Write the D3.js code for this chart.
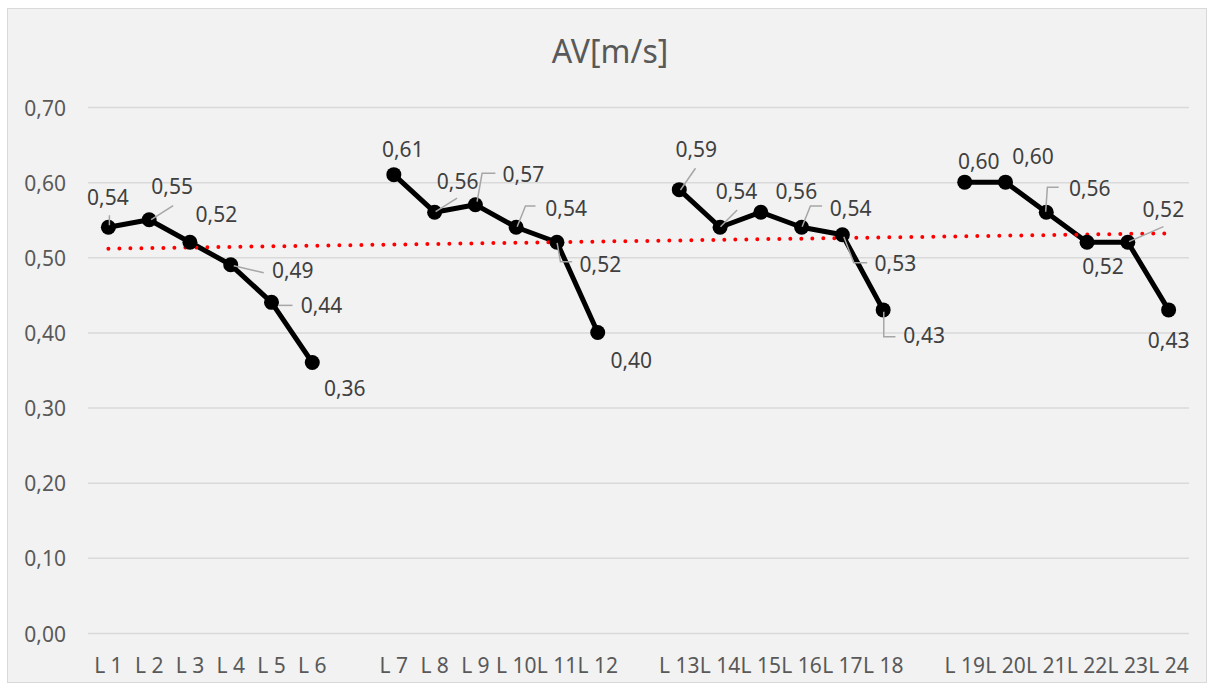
<!DOCTYPE html>
<html>
<head>
<meta charset="utf-8">
<script src="https://cdn.jsdelivr.net/npm/d3@7/dist/d3.min.js"></script>
<style>
  html, body { margin: 0; padding: 0; background: #ffffff; }
  svg { display: block; }
  text { font-family: "Noto Sans", "Open Sans", sans-serif; }
</style>
</head>
<body>
<svg id="chart" width="1213" height="690"></svg>
<script>
// Categories: four groups of six, separated by an empty slot
const categories = [
  "L 1", "L 2", "L 3", "L 4", "L 5", "L 6", "",
  "L 7", "L 8", "L 9", "L 10", "L 11", "L 12", "",
  "L 13", "L 14", "L 15", "L 16", "L 17", "L 18", "",
  "L 19", "L 20", "L 21", "L 22", "L 23", "L 24"
];

// AV [m/s] per category (null = gap)
const avValues = [
  0.54, 0.55, 0.52, 0.49, 0.44, 0.36, null,
  0.61, 0.56, 0.57, 0.54, 0.52, 0.40, null,
  0.59, 0.54, 0.56, 0.54, 0.53, 0.43, null,
  0.60, 0.60, 0.56, 0.52, 0.52, 0.43
];

const yTicks = [0, 0.1, 0.2, 0.3, 0.4, 0.5, 0.6, 0.7];
const chartTitle = "AV[m/s]";

// Data label placement: offset of the label centre from its point (px)
const labelOffsets = [
  [-0.5, -30], [23, -33], [26.5, -28], [62, 6], [50, 3], [32.5, 26.5], null,
  [9, -25.5], [23, -30.5], [48, -30], [50, -19], [43.5, 22], [33.5, 28.5], null,
  [17, -40], [16.5, -35.5], [35.5, -20.5], [49, -19], [53, 29], [41, 26], null,
  [14, -21], [27.5, -25.5], [43.5, -24], [16, 24], [35.5, -33], [0, 30.5]
];

// Leader lines for moved labels, relative to the point (px)
const leaderPaths = [
  [[1, -12], [1, -2]], [[24, -14], [2, 0]], null, [[33, 8], [3, 1]], [[21, 3], [7, 3]], null, null,
  null, [[22.5, -14], [1, -0.5]], [[20, -31.4], [6.7, -31.4], [1.7, -3]], [[19.3, -21.2], [9.3, -21.2], [1, -0.5]], [[0.2, 0.7], [3.5, 19.4], [15.2, 19.4]], null, null,
  [[16.2, -21.4], [1.2, 0.3]], [[17.1, -17.2], [0.4, -0.5]], null, [[20.5, -21.2], [8.8, -21.2], [0.5, -0.5]], [[1.4, 2], [11.4, 28], [24.8, 28]], [[0.6, 1.8], [0.6, 26.8], [12.3, 26.8]], null,
  null, null, [[12.4, -24.9], [1.1, -24.9], [-0.6, -0.5]], null, [[35.6, -15.6], [1.2, -0.6]], null
];

const svg = d3.select("#chart");
const plot = { left: 88, right: 1189, top: 107, bottom: 633 };

// Chart area
svg.append("rect")
  .attr("x", 7.5).attr("y", 8.5)
  .attr("width", 1199).attr("height", 674)
  .attr("fill", "#f2f2f2")
  .attr("stroke", "#d9d9d9").attr("stroke-width", 1);

const idx = categories.map((c, i) => i);
const x = d3.scaleBand().domain(idx).range([plot.left, plot.right]).padding(0);
const cx = i => x(i) + x.bandwidth() / 2;
const y = d3.scaleLinear().domain([0, 0.7]).range([plot.bottom, plot.top]);

const fmt = v => d3.format(".2f")(v).replace(".", ",");

// Horizontal gridlines + value axis labels
const yAxis = d3.axisLeft(y)
  .tickValues(yTicks)
  .tickFormat(fmt)
  .tickSize(-(plot.right - plot.left))
  .tickPadding(22);
const gy = svg.append("g").attr("transform", `translate(${plot.left},0)`).call(yAxis);
gy.select(".domain").remove();
gy.selectAll(".tick line").attr("stroke", "#d9d9d9").attr("stroke-width", 1.5);
gy.selectAll(".tick text")
  .attr("fill", "#595959")
  .attr("font-size", 21)
  .attr("dy", null)
  .attr("y", 8);

// Category axis labels
const xAxis = d3.axisBottom(x)
  .tickFormat(i => categories[i])
  .tickSize(0)
  .tickPadding(0);
const gx = svg.append("g").attr("transform", `translate(0,${plot.bottom})`).call(xAxis);
gx.select(".domain").remove();
gx.selectAll(".tick text")
  .attr("fill", "#595959")
  .attr("font-size", 21)
  .attr("dy", null)
  .attr("y", 40);

// Title
svg.append("text")
  .attr("x", 610).attr("y", 63)
  .attr("text-anchor", "middle")
  .attr("font-size", 32)
  .attr("fill", "#595959")
  .text(chartTitle);

// Data series
const pts = avValues.map((v, i) => ({ i, v })).filter(d => d.v !== null);

const line = d3.line()
  .defined(d => d.v !== null)
  .x(d => cx(d.i))
  .y(d => y(d.v));

svg.append("path")
  .datum(avValues.map((v, i) => ({ i, v })))
  .attr("fill", "none")
  .attr("stroke", "#000000")
  .attr("stroke-width", 5)
  .attr("stroke-linejoin", "round")
  .attr("d", line);

// Linear trendline (least squares over category positions)
const n = pts.length;
const mx = d3.mean(pts, d => d.i + 1);
const my = d3.mean(pts, d => d.v);
const sxy = d3.sum(pts, d => (d.i + 1 - mx) * (d.v - my));
const sxx = d3.sum(pts, d => (d.i + 1 - mx) ** 2);
const slope = sxy / sxx;
const icpt = my - slope * mx;
const tFirst = pts[0].i, tLast = pts[n - 1].i;
svg.append("path")
  .datum([tFirst, tLast])
  .attr("fill", "none")
  .attr("stroke", "#ff0000")
  .attr("stroke-width", 4)
  .attr("stroke-linecap", "round")
  .attr("stroke-dasharray", "0 11")
  .attr("d", d3.line().x(i => cx(i)).y(i => y(icpt + slope * (i + 1))));

// Markers
svg.append("g").selectAll("circle")
  .data(pts)
  .join("circle")
  .attr("cx", d => cx(d.i))
  .attr("cy", d => y(d.v))
  .attr("r", 7.5)
  .attr("fill", "#000000");

// Leader lines
svg.append("g").selectAll("path")
  .data(pts.filter(d => leaderPaths[d.i]))
  .join("path")
  .attr("fill", "none")
  .attr("stroke", "#a6a6a6")
  .attr("stroke-width", 1.5)
  .attr("d", d => d3.line()(leaderPaths[d.i].map(([dx, dy]) => [cx(d.i) + dx, y(d.v) + dy])));

// Data labels
svg.append("g").selectAll("text")
  .data(pts)
  .join("text")
  .attr("x", d => cx(d.i) + labelOffsets[d.i][0])
  .attr("y", d => y(d.v) + labelOffsets[d.i][1] + 7.5)
  .attr("text-anchor", "middle")
  .attr("font-size", 21)
  .attr("fill", "#404040")
  .text(d => fmt(d.v));
</script>
</body>
</html>
